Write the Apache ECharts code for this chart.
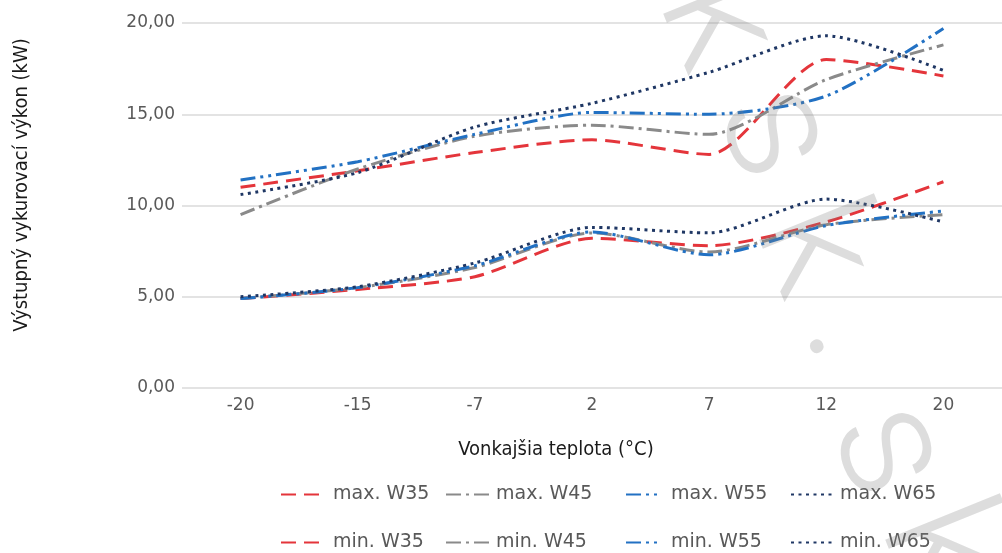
<!DOCTYPE html>
<html>
<head>
<meta charset="utf-8">
<script src="https://cdn.jsdelivr.net/npm/echarts@6/dist/echarts.min.js"></script>
<style>
  html, body { margin: 0; padding: 0; background: #ffffff; }
  #chart { width: 1002px; height: 553px; }
</style>
</head>
<body>
<div id="chart"></div>
<script>
// Outdoor temperature categories (°C)
const categories = ['-20', '-15', '-7', '2', '7', '12', '20'];

// Heating output (kW), maximum per flow temperature
const maxW35 = [11.0, 11.9, 12.9, 13.6, 12.8, 18.0, 17.1];
const maxW45 = [9.5, 12.0, 13.8, 14.4, 13.9, 16.9, 18.8];
const maxW55 = [11.4, 12.4, 13.9, 15.1, 15.0, 16.0, 19.7];
const maxW65 = [10.6, 11.8, 14.3, 15.6, 17.3, 19.3, 17.4];

// Heating output (kW), minimum per flow temperature
const minW35 = [4.9, 5.4, 6.1, 8.2, 7.8, 9.1, 11.3];
const minW45 = [4.9, 5.5, 6.6, 8.5, 7.45, 8.95, 9.5];
const minW55 = [4.9, 5.5, 6.7, 8.55, 7.3, 8.9, 9.7];
const minW65 = [5.0, 5.55, 6.85, 8.8, 8.5, 10.35, 9.1];

// Y axis ticks
const yMin = 0, yMax = 20, yStep = 5;

const RED = '#e4353b', GRAY = '#8a8a8a', BLUE = '#2271c3', NAVY = '#1f3764';
const DASH = [15, 8];
const DASH_DOT = [15, 5, 3, 5];
const DASH_DOT_DOT = [15, 5, 3, 5, 3, 5];
const DOT = [3, 4.5];

function line(name, data, color, type) {
  return {
    name: name,
    type: 'line',
    data: data,
    smooth: 0.25,
    symbol: 'none',
    lineStyle: { color: color, width: 3, type: type, cap: 'butt' },
    itemStyle: { color: color }
  };
}

const series = [
  line('max. W35', maxW35, RED, DASH),
  line('max. W45', maxW45, GRAY, DASH_DOT),
  line('max. W55', maxW55, BLUE, DASH_DOT_DOT),
  line('max. W65', maxW65, NAVY, DOT),
  line('min. W35', minW35, RED, DASH),
  line('min. W45', minW45, GRAY, DASH_DOT),
  line('min. W55', minW55, BLUE, DASH_DOT_DOT),
  line('min. W65', minW65, NAVY, DOT)
];

// One legend box per entry: four columns, two rows
const legendColumns = [
  { left: 280, width: 43, gap: 9 },
  { left: 445, width: 45, gap: 4 },
  { left: 625, width: 36, gap: 9 },
  { left: 790, width: 42, gap: 7 }
];
const legendRows = [485, 533];
const legends = series.map(function (s, i) {
  const col = legendColumns[i % 4];
  return {
    data: [s.name],
    left: col.left,
    top: legendRows[Math.floor(i / 4)],
    padding: 0,
    itemWidth: col.width,
    itemHeight: 16,
    itemStyle: { opacity: 0 },
    selectedMode: false,
    textStyle: {
      fontFamily: 'DejaVu Sans',
      fontSize: 19,
      color: '#595959',
      padding: [0, 0, 0, Math.max(0, col.gap - 5)]
    }
  };
});

// Site mark, one glyph at a time along a slanted line
const markChars = ['k', 's', 'k', '.', 's', 'k'];
const markSpots = [[712, 24], [770, 134], [808, 250], [850, 334], [884, 452], [934, 550]];
const markRot = -68 * Math.PI / 180;
const markGraphics = markChars.map(function (ch, i) {
  return {
    type: 'text',
    x: markSpots[i][0],
    y: markSpots[i][1],
    rotation: markRot,
    silent: true,
    z: 100,
    style: {
      text: ch,
      x: 0, y: 0,
      align: 'center',
      verticalAlign: 'middle',
      fill: 'rgba(128,128,128,0.27)',
      fontFamily: 'Roboto',
      fontWeight: 300,
      fontSize: 165
    }
  };
});

const chart = echarts.init(document.getElementById('chart'), null, { renderer: 'canvas' });
chart.setOption({
  animation: false,
  backgroundColor: '#ffffff',
  grid: { left: 182, right: -9, top: 23, bottom: 165, containLabel: false },
  xAxis: {
    type: 'category',
    data: categories,
    boundaryGap: true,
    axisLine: { show: false },
    axisTick: { show: false },
    axisLabel: { margin: 9, fontFamily: 'DejaVu Sans', fontSize: 17, color: '#595959' },
    splitLine: { show: false }
  },
  yAxis: {
    type: 'value',
    min: yMin,
    max: yMax,
    interval: yStep,
    axisLine: { show: false },
    axisTick: { show: false },
    axisLabel: {
      margin: 7,
      fontFamily: 'DejaVu Sans',
      fontSize: 17,
      color: '#595959',
      formatter: function (v) { return v.toFixed(2).replace('.', ','); }
    },
    splitLine: { lineStyle: { color: '#e3e3e3', width: 2 } }
  },
  legend: legends,
  graphic: [
    {
      type: 'text',
      x: 22, y: 185,
      rotation: Math.PI / 2,
      silent: true,
      style: {
        text: 'Výstupný vykurovací výkon (kW)',
        x: 0, y: 0,
        align: 'center', verticalAlign: 'middle',
        fill: '#1a1a1a',
        font: '20px "DejaVu Sans Condensed"'
      }
    },
    {
      type: 'text',
      x: 556, y: 450,
      silent: true,
      style: {
        text: 'Vonkajšia teplota (°C)',
        x: 0, y: 0,
        align: 'center', verticalAlign: 'middle',
        fill: '#1a1a1a',
        font: '20px "DejaVu Sans Condensed"'
      }
    }
  ].concat(markGraphics),
  series: series
});
</script>
</body>
</html>
